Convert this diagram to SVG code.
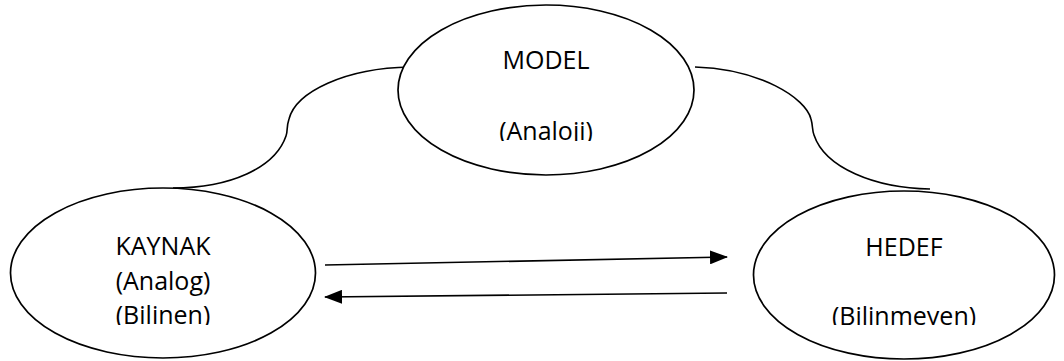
<svg xmlns="http://www.w3.org/2000/svg" width="1064" height="361" viewBox="0 0 1064 361">
<style>
.node ellipse{fill:#fff;stroke:#000;stroke-width:1.7}
.conn path{fill:none;stroke:#000;stroke-width:1.6}
text{font-family:"Open Sans","Liberation Sans",sans-serif;font-size:25px;fill:#000;text-anchor:middle}
</style>
<defs>
<marker id="ah" markerWidth="18" markerHeight="14" refX="17" refY="7" orient="auto" markerUnits="userSpaceOnUse">
<path d="M0,0 L18,7 L0,14 Z" fill="#000"/>
</marker>
<clipPath id="cm"><rect x="0" y="0" width="1064" height="141"/></clipPath>
<clipPath id="ck"><rect x="0" y="0" width="1064" height="325"/></clipPath>
</defs>
<g class="conn" id="connectors">
<path d="M410,67 C345,68 296,92 289,119 C286,128 288,131 286,136 C275,168 230,188 173,188"/>
<path d="M695,67 C760,69 806,98 811,119 C813,126 812,130 814,135 C825,168 875,188 930,189"/>
<path d="M325,265 L727,257" marker-end="url(#ah)"/>
<path d="M727,293 L325,297" marker-end="url(#ah)"/>
</g>
<g class="node" id="model">
<ellipse cx="546" cy="90" rx="148" ry="85"/>
<text x="546" y="69">MODEL</text>
<text x="546" y="140" clip-path="url(#cm)">(Analoji)</text>
</g>
<g class="node" id="kaynak">
<ellipse cx="163" cy="273" rx="152.5" ry="85"/>
<text x="163" y="255">KAYNAK</text>
<text x="163" y="290">(Analog)</text>
<text x="163" y="324" clip-path="url(#ck)">(Bilinen)</text>
</g>
<g class="node" id="hedef">
<ellipse cx="904" cy="275" rx="150.5" ry="84"/>
<text x="904" y="256">HEDEF</text>
<text x="904" y="325" clip-path="url(#ck)">(Bilinmeyen)</text>
</g>
</svg>
